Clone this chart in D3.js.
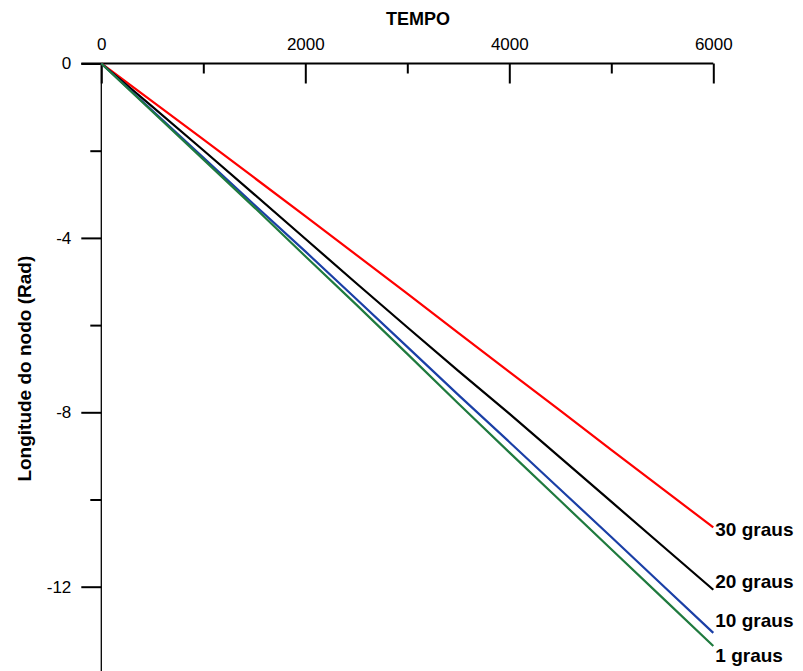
<!DOCTYPE html>
<html>
<head>
<meta charset="utf-8">
<script src="https://cdn.jsdelivr.net/npm/d3@7"></script>
<style>
  html, body { margin: 0; padding: 0; background: #fff; }
  svg { display: block; font-family: "Liberation Sans", Arial, sans-serif; }
</style>
</head>
<body>
<svg id="chart" width="803" height="671"></svg>
<script>
// Time samples (TEMPO)
const tempo = [0, 500, 1000, 1500, 2000, 2500, 3000, 3500, 4000, 4500, 5000, 5500, 6000];

// Longitude of the node (rad) for each inclination
const graus30 = [0, -0.87, -1.74, -2.62, -3.50, -4.39, -5.28, -6.18, -7.07, -7.96, -8.86, -9.75, -10.64];
const graus20 = [0, -0.99, -1.99, -3.00, -4.02, -5.04, -6.05, -7.05, -8.03, -9.04, -10.05, -11.06, -12.07];
const graus10 = [0, -1.08, -2.16, -3.24, -4.31, -5.40, -6.50, -7.60, -8.68, -9.77, -10.86, -11.96, -13.06];
const graus1  = [0, -1.10, -2.20, -3.30, -4.42, -5.53, -6.66, -7.80, -8.92, -10.03, -11.14, -12.25, -13.36];

const seriesNames = ["30 graus", "20 graus", "10 graus", "1 graus"];

// Axis ticks
const xMajorTicks = [0, 2000, 4000, 6000];
const xMinorTicks = [1000, 3000, 5000];
const yMajorTicks = [0, -4, -8, -12];
const yMinorTicks = [-2, -6, -10];

const xTitle = "TEMPO";
const yTitle = "Longitude do nodo (Rad)";

const series = [
  { name: seriesNames[0], values: graus30, color: "#ff0000", labelShift: 2 },
  { name: seriesNames[1], values: graus20, color: "#000000", labelShift: -9 },
  { name: seriesNames[2], values: graus10, color: "#1a3fa6", labelShift: -13 },
  { name: seriesNames[3], values: graus1,  color: "#1f7a3e", labelShift: 9 }
];

const svg = d3.select("#chart");

const x = d3.scaleLinear().domain([0, 6000]).range([101.3, 713.3]);
const y = d3.scaleLinear().domain([0, -14]).range([63.5, 673.9]);

const fontSize = 17;

// X axis along the top, ticks pointing into the plot
const xAxisG = svg.append("g").attr("transform", `translate(0,${y(0)})`);
xAxisG.call(d3.axisTop(x).tickValues(xMajorTicks).tickSize(-20).tickPadding(13.5)
  .tickFormat(d => String(d)));
xAxisG.select(".domain").remove();
xAxisG.selectAll(".tick line").attr("stroke", "#000").attr("stroke-width", 2);
xAxisG.selectAll(".tick text").attr("font-size", fontSize).attr("fill", "#000")
  .attr("font-family", "Liberation Sans, Arial, sans-serif");

const xMinorG = svg.append("g").attr("transform", `translate(0,${y(0)})`);
xMinorG.call(d3.axisTop(x).tickValues(xMinorTicks).tickSize(-10).tickFormat(""));
xMinorG.select(".domain").remove();
xMinorG.selectAll(".tick line").attr("stroke", "#000").attr("stroke-width", 2);

// Y axis on the left, ticks pointing out
const yAxisG = svg.append("g").attr("transform", `translate(${x(0)},0)`);
yAxisG.call(d3.axisLeft(y).tickValues(yMajorTicks).tickSize(20).tickPadding(10)
  .tickFormat(d => String(d)));
yAxisG.select(".domain").remove();
yAxisG.selectAll(".tick line").attr("stroke", "#000").attr("stroke-width", 2);
yAxisG.selectAll(".tick text").attr("font-size", fontSize).attr("fill", "#000")
  .attr("font-family", "Liberation Sans, Arial, sans-serif");

const yMinorG = svg.append("g").attr("transform", `translate(${x(0)},0)`);
yMinorG.call(d3.axisLeft(y).tickValues(yMinorTicks).tickSize(11).tickFormat(""));
yMinorG.select(".domain").remove();
yMinorG.selectAll(".tick line").attr("stroke", "#000").attr("stroke-width", 2);

// Axis lines
svg.append("line")
  .attr("x1", x(0)).attr("x2", x(0))
  .attr("y1", y(0)).attr("y2", y(-14))
  .attr("stroke", "#000").attr("stroke-width", 1.3);
svg.append("line")
  .attr("x1", x(0) - 20).attr("x2", x(6000))
  .attr("y1", y(0)).attr("y2", y(0))
  .attr("stroke", "#000").attr("stroke-width", 2);

// Titles
svg.append("text")
  .attr("x", 418).attr("y", 25)
  .attr("text-anchor", "middle")
  .attr("font-size", 18).attr("font-weight", "bold")
  .text(xTitle);

svg.append("text")
  .attr("transform", `translate(31,${(y(0) + y(-14)) / 2}) rotate(-90)`)
  .attr("text-anchor", "middle")
  .attr("font-size", 19).attr("font-weight", "bold")
  .text(yTitle);

// Series lines
const line = d3.line()
  .x((d, i) => x(tempo[i]))
  .y(d => y(d));

svg.append("g").selectAll("path")
  .data(series)
  .join("path")
  .attr("d", s => line(s.values))
  .attr("fill", "none")
  .attr("stroke", s => s.color)
  .attr("stroke-width", 2.2)
  .attr("stroke-linejoin", "round");

// End labels
svg.append("g").selectAll("text")
  .data(series)
  .join("text")
  .attr("x", x(6000) + 2)
  .attr("y", s => y(s.values[s.values.length - 1]) + s.labelShift)
  .attr("dy", "0.36em")
  .attr("font-size", 19)
  .attr("font-weight", "bold")
  .attr("fill", "#000")
  .text(s => s.name);
</script>
</body>
</html>
